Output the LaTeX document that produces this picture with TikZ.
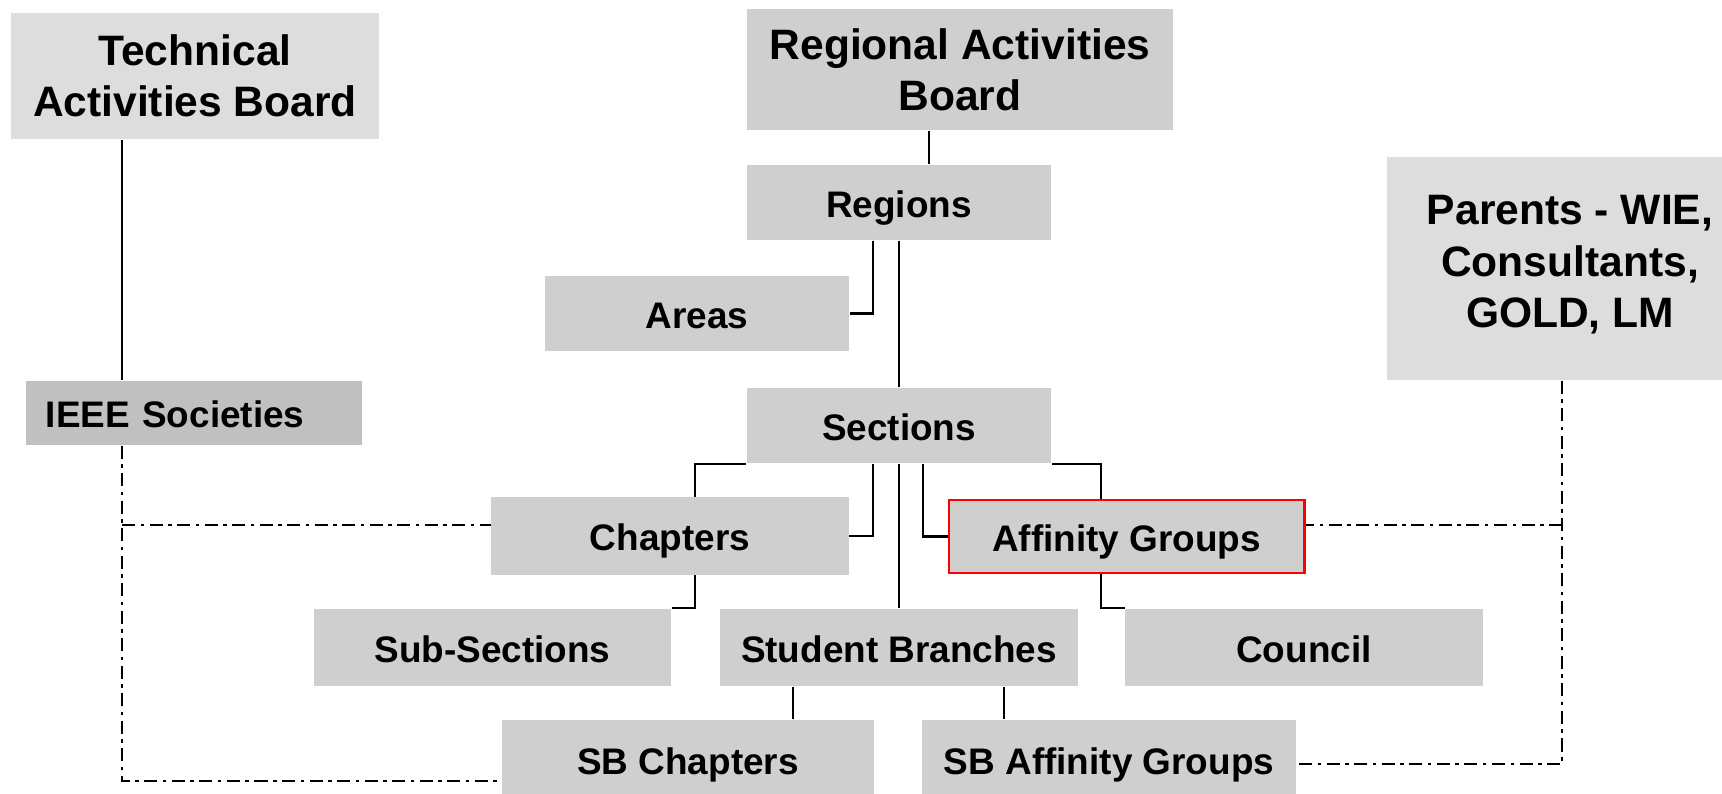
\documentclass[tikz,border=0pt]{standalone}
\usepackage{fontspec}
\setmainfont{Liberation Sans}
\usepackage{tikz}

\definecolor{boxgray}{RGB}{207,207,207}
\definecolor{lightgray}{RGB}{221,221,221}
\definecolor{darkgray}{RGB}{192,192,192}

\begin{document}
\begin{tikzpicture}[
        x=0.01cm, y=-0.01cm,
        base/.style={rectangle, fill=boxgray, inner sep=0pt, align=center},
        box/.style={base, minimum width=3.04cm, minimum height=0.75cm,
            text height=8.3pt, text depth=0pt,
            font=\bfseries\fontsize{10.5}{12}\selectfont},
        widebox/.style={box, minimum width=3.57cm, minimum height=0.77cm},
        bigbox/.style={base, font=\bfseries\fontsize{12.1}{14.6}\selectfont},
        link/.style={line width=0.6pt},
        dashdot/.style={line width=0.75pt, dash pattern=on 1.3mm off 0.55mm on 0.35mm off 0.55mm}
    ]
    \useasboundingbox (0,0) rectangle (1722,793);

    % boards
    \node[bigbox, fill=lightgray, minimum width=3.68cm, minimum height=1.26cm] (tab) at (195,76) {Technical\\Activities Board};
    \node[bigbox, minimum width=4.26cm, minimum height=1.21cm] (rab) at (960,69.5) {Regional Activities\\Board};
    \node[bigbox, fill=lightgray, minimum width=3.66cm, minimum height=2.23cm, text depth=4pt] (parents) at (1570,268.5) {Parents - WIE,\\Consultants,\\GOLD, LM};
    \node[box, fill=darkgray, minimum width=3.36cm, minimum height=0.64cm,
        text width=2.96cm, align=left] (societies) at (194,413) {IEEE Societies};

    % geographic units
    \node[box] (regions) at (899,202.5) {Regions};
    \node[box] (areas) at (697,313.5) {Areas};
    \node[box] (sections) at (899,425.5) {Sections};
    \node[widebox] (chapters) at (670,536) {Chapters};
    \node[widebox, draw=red, line width=0.8pt, minimum width=3.55cm, minimum height=0.73cm] (affinity) at (1126.5,536.5) {Affinity Groups};
    \node[widebox] (subsections) at (492.5,647.5) {Sub-Sections};
    \node[widebox] (branches) at (899,647.5) {Student Branches};
    \node[widebox] (council) at (1304,647.5) {Council};
    \node[widebox, minimum width=3.72cm, minimum height=0.8cm] (sbchapters) at (688,760) {SB Chapters};
    \node[widebox, minimum width=3.74cm, minimum height=0.8cm] (sbaffinity) at (1109,760) {SB Affinity Groups};

    % columns and rows of the connectors
    \coordinate (colsoc) at (122,0);
    \coordinate (colrab) at (929,0);
    \coordinate (colarea) at (873,0);
    \coordinate (colchap) at (695,0);
    \coordinate (colaff) at (923,0);
    \coordinate (colcouncil) at (1101,0);
    \coordinate (colsbc) at (793,0);
    \coordinate (colsba) at (1004,0);
    \coordinate (colpar) at (1562,0);
    \coordinate (rowmid) at (0,525);
    \coordinate (rowleft) at (0,781);
    \coordinate (rowright) at (0,764);

    \draw[link] (tab.south -| colsoc) -- (societies.north -| colsoc);
    \draw[link] (rab.south -| colrab) -- (regions.north -| colrab);
    \draw[link] (regions.south -| colarea) |- (areas.east);
    \draw[link] (regions) -- (sections);
    \draw[link] (sections.south west) -| (chapters.north -| colchap);
    \draw[link] (sections.south -| colarea) |- (chapters.east);
    \draw[link] (sections) -- (branches);
    \draw[link] (sections.south -| colaff) |- (affinity.west);
    \draw[link] (sections.south east) -| (affinity.north -| colcouncil);
    \draw[link] (chapters.south -| colchap) |- (subsections.north east);
    \draw[link] (affinity.south -| colcouncil) |- (council.north west);
    \draw[link] (branches.south -| colsbc) -- (sbchapters.north -| colsbc);
    \draw[link] (branches.south -| colsba) -- (sbaffinity.north -| colsba);

    \draw[dashdot] (societies.south -| colsoc) |- (sbchapters.west |- rowleft);
    \draw[dashdot] (colsoc |- rowmid) -- (chapters.west |- rowmid);
    \draw[dashdot] (parents.south -| colpar) |- (sbaffinity.east |- rowright);
    \draw[dashdot] (colpar |- rowmid) -- (affinity.east |- rowmid);
\end{tikzpicture}
\end{document}
